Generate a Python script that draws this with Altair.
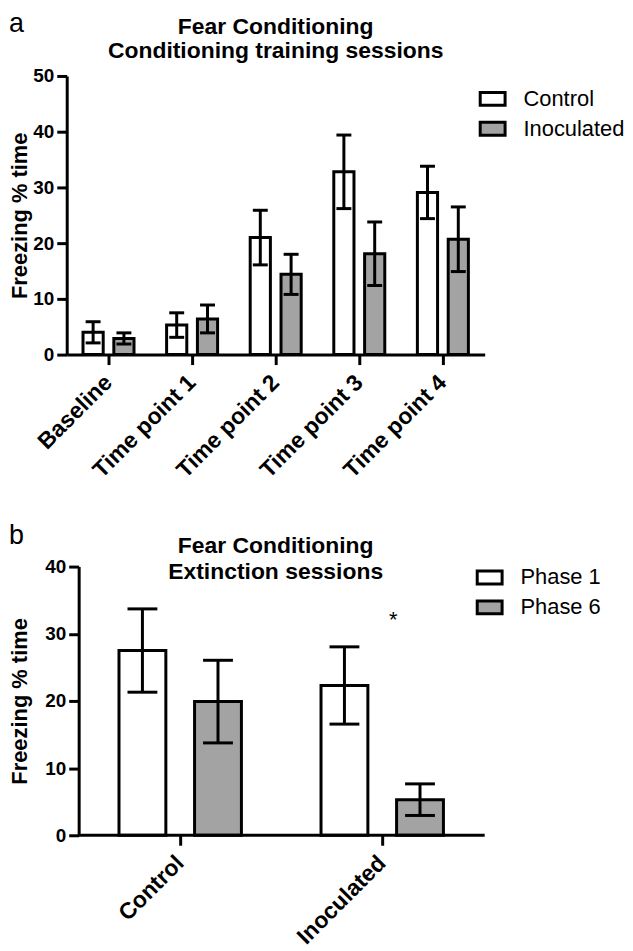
import altair as alt
import pandas as pd

FONT = "Liberation Sans"

# ---------------- data: panel a ----------------
time_points = ["Baseline", "Time point 1", "Time point 2", "Time point 3", "Time point 4"]
groups_a = ["Control", "Inoculated"]
control_mean = [4.0, 5.3, 21.0, 32.8, 29.1]
control_sem = [1.9, 2.2, 4.9, 6.6, 4.7]
inoculated_mean = [2.9, 6.4, 14.4, 18.1, 20.7]
inoculated_sem = [1.0, 2.5, 3.6, 5.7, 5.8]
title_a = ["Fear Conditioning", "Conditioning training sessions"]

# ---------------- data: panel b ----------------
conditions_b = ["Control", "Inoculated"]
phases = ["Phase 1", "Phase 6"]
phase1_mean = [27.5, 22.3]
phase1_sem = [6.2, 5.75]
phase6_mean = [19.9, 5.3]
phase6_sem = [6.15, 2.35]
title_b = ["Fear Conditioning", "Extinction sessions"]

fill_colors = ["white", "#a3a3a3"]
y_ticks_a = [0, 10, 20, 30, 40, 50]
y_ticks_b = [0, 10, 20, 30, 40]
sig_label = ["*"]
sig_level = [32.0]

rows_a = []
for i, tp in enumerate(time_points):
    for g, m, s in (("Control", control_mean[i], control_sem[i]),
                    ("Inoculated", inoculated_mean[i], inoculated_sem[i])):
        rows_a.append({"tp": tp, "group": g, "mean": m, "lo": m - s, "hi": m + s})
df_a = pd.DataFrame(rows_a)

rows_b = []
for i, c in enumerate(conditions_b):
    for p, m, s in (("Phase 1", phase1_mean[i], phase1_sem[i]),
                    ("Phase 6", phase6_mean[i], phase6_sem[i])):
        rows_b.append({"cond": c, "phase": p, "mean": m, "lo": m - s, "hi": m + s})
df_b = pd.DataFrame(rows_b)

SYMBOL = "M-1,-0.52H1V0.52H-1Z"


def y_axis(values, tpad, offset=0):
    return alt.Axis(values=values, title="Freezing % time", grid=False, offset=offset,
                    titleFont=FONT, titleFontSize=22, titleFontWeight="bold",
                    titleColor="black", titlePadding=tpad,
                    labelFont=FONT, labelFontSize=19, labelFontWeight="bold",
                    labelColor="black", labelPadding=3,
                    tickSize=10, tickWidth=3, tickColor="black",
                    domainWidth=3, domainColor="black")


def x_axis(domain=True):
    return alt.Axis(title=None, labelAngle=-45, labelAlign="right", labelBaseline="middle",
                    labelFont=FONT, labelFontSize=23, domain=domain,
                    labelFontWeight="bold", labelColor="black", labelPadding=14,
                    tickSize=10, tickWidth=3, tickColor="black",
                    domainWidth=3, domainColor="black")


def legend(lx, ly):
    return alt.Legend(title=None, orient="none", legendX=lx, legendY=ly,
                      symbolType=SYMBOL, symbolSize=625, symbolStrokeColor="black",
                      symbolStrokeWidth=3, labelFont=FONT, labelFontSize=22,
                      labelColor="black", labelOffset=17, rowPadding=3, padding=0)


def text_mark(txt, x, y, size, weight, align, baseline):
    return alt.Chart(pd.DataFrame({"t": [txt]})).mark_text(
        font=FONT, fontSize=size, fontWeight=weight, align=align,
        baseline=baseline, color="black"
    ).encode(text="t:N", x=alt.value(x), y=alt.value(y))


def panel(df, xfield, xsort, ofield, osort, yvals, yax, xscale, xax, opad, cap, lx, ly,
          title_lines, title_x, title_y, letter, letter_y, width, height, extra=None):
    x = alt.X(f"{xfield}:N", sort=xsort, axis=xax, scale=xscale)
    xo = alt.XOffset(f"{ofield}:N", sort=osort,
                     scale=alt.Scale(paddingInner=opad, paddingOuter=0))
    ysc = alt.Scale(domain=[yvals[0], yvals[-1]], nice=False)
    base = alt.Chart(df)
    bars = base.mark_bar(stroke="black", strokeWidth=3, opacity=1).encode(
        x=x, xOffset=xo,
        y=alt.Y("mean:Q", scale=ysc, axis=yax),
        fill=alt.Fill(f"{ofield}:N", sort=osort,
                      scale=alt.Scale(domain=osort, range=fill_colors),
                      legend=legend(lx, ly)),
    )
    rules = base.mark_rule(strokeWidth=3, color="black").encode(
        x=x, xOffset=xo,
        y=alt.Y("lo:Q", scale=ysc, axis=yax), y2="hi:Q",
    )
    caps = base.transform_fold(["lo", "hi"], as_=["end", "v"]).mark_tick(
        orient="horizontal", size=cap, thickness=3, color="black", opacity=1
    ).encode(
        x=x, xOffset=xo,
        y=alt.Y("v:Q", scale=ysc, axis=yax),
    )
    layers = [bars, rules, caps,
              text_mark(letter, -58, letter_y, 27, "normal", "left", "top"),
              text_mark(title_lines[0], title_x, title_y[0], 23, "bold", "center", "alphabetic"),
              text_mark(title_lines[1], title_x, title_y[1], 23, "bold", "center", "alphabetic")]
    if extra is not None:
        layers.extend(extra(ysc, yax, x))
    return alt.layer(*layers).properties(width=width, height=height)


# ---- panel a ----
pa = panel(df_a, "tp", time_points, "group", groups_a, y_ticks_a,
           y_axis(y_ticks_a, 1),
           alt.Scale(paddingInner=0.39, paddingOuter=0.195), x_axis(),
           0.345, 15, 414, 9, title_a, 210, [-42, -18], "a", -65, 420, 280)

# ---- panel b: y axis sits 12 px inside the view, baseline drawn from it ----
B_AXIS_SHIFT = 12


def extras_b(ysc, yax, x):
    base_line = alt.Chart(pd.DataFrame({"z": [0]})).mark_rule(
        strokeWidth=3, color="black").encode(
        x=alt.value(B_AXIS_SHIFT), x2=alt.value(420),
        y=alt.Y("z:Q", scale=ysc, axis=yax))
    sig_df = pd.DataFrame({"cond": ["Inoculated"], "v": sig_level, "t": sig_label})
    sig = alt.Chart(sig_df).mark_text(font=FONT, fontSize=22, dx=11, baseline="middle",
                                      color="black").encode(
        x=x, y=alt.Y("v:Q", scale=ysc, axis=yax), text="t:N")
    return [base_line, sig]


pb = panel(df_b, "cond", conditions_b, "phase", phases, y_ticks_b,
           y_axis(y_ticks_b, 13, offset=-B_AXIS_SHIFT),
           alt.Scale(paddingInner=0.394, paddingOuter=0.2315, align=0.559),
           x_axis(domain=False),
           0.38, 30, 411, -3, title_b, 210, [-14, 12], "b", -44, 420, 270,
           extra=extras_b)

chart = alt.ConcatChart(
    concat=[pa, pb], columns=1, spacing=40, padding=0,
).resolve_scale(fill="independent", x="independent", y="independent",
                 xOffset="independent").resolve_legend(fill="independent").configure_view(stroke=None)

chart.save("out.html", embed_options={"renderer": "svg", "actions": False})
